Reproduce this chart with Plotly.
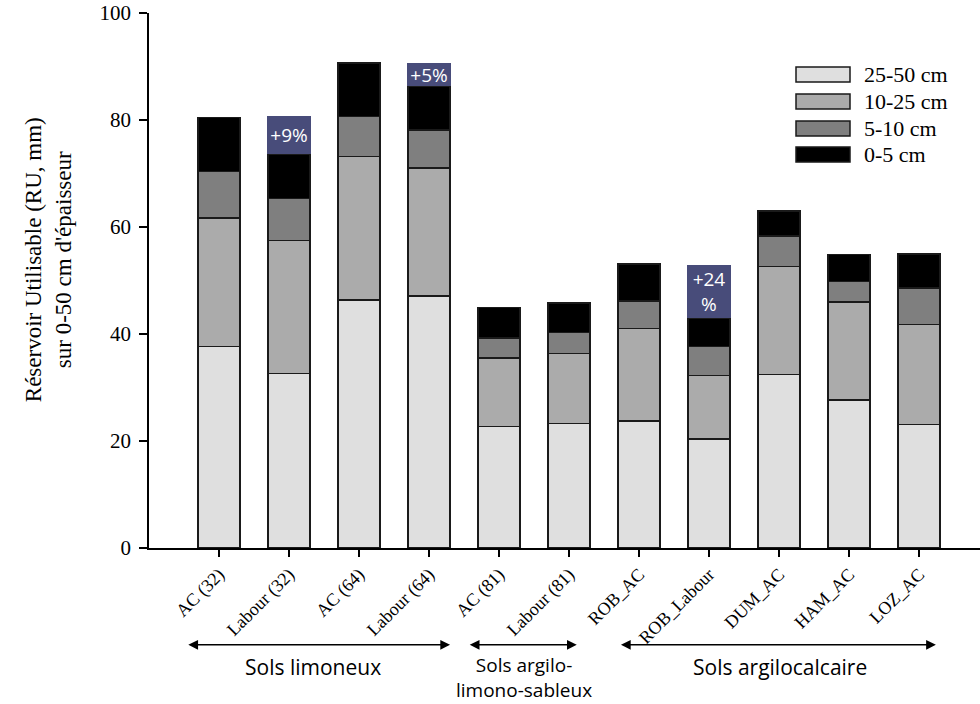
import plotly.graph_objects as go

# ---- data ----
categories = ["AC (32)", "Labour (32)", "AC (64)", "Labour (64)", "AC (81)", "Labour (81)",
              "ROB_AC", "ROB_Labour", "DUM_AC", "HAM_AC", "LOZ_AC"]
ru_25_50 = [37.7, 32.6, 46.4, 47.1, 22.7, 23.3, 23.7, 20.4, 32.4, 27.7, 23.1]
ru_10_25 = [24.0, 24.9, 26.8, 23.9, 12.8, 13.1, 17.3, 11.8, 20.2, 18.3, 18.7]
ru_5_10 = [8.7, 7.8, 7.5, 7.1, 3.8, 3.9, 5.2, 5.5, 5.7, 3.8, 6.8]
ru_0_5 = [10.1, 8.3, 10.0, 8.2, 5.7, 5.5, 6.9, 5.3, 4.7, 5.1, 6.4]
layer_names = ["25-50 cm", "10-25 cm", "5-10 cm", "0-5 cm"]
gain_labels = ["", "+9%", "", "+5%", "", "", "", "+24<br>%", "", "", ""]
gain_box_heights = [0, 38, 0, 23, 0, 0, 0, 53, 0, 0, 0]
group_labels = ["Sols limoneux", "Sols argilo-<br>limono-sableux", "Sols argilocalcaire"]

layers = [ru_25_50, ru_10_25, ru_5_10, ru_0_5]
colors = ["#dfdfdf", "#ababab", "#7f7f7f", "#000000"]

SERIF = "Liberation Serif, Times New Roman, serif"
SANS = "Open Sans, Lato, sans-serif"

fig = go.Figure()
for name, vals, col in zip(layer_names, layers, colors):
    fig.add_trace(go.Bar(
        x=categories, y=vals, name=name,
        marker=dict(color=col, line=dict(color="#1a1a1a", width=1.5)),
        showlegend=False,
    ))

totals = [sum(v) for v in zip(*layers)]

annotations = []
# gain boxes
for cat, tot, lab, h in zip(categories, totals, gain_labels, gain_box_heights):
    if lab:
        annotations.append(dict(
            x=cat, y=tot, xref="x", yref="y", text=lab, showarrow=False,
            yanchor="bottom", xanchor="center", width=44, height=h,
            bgcolor="#484c7a", borderpad=0, borderwidth=0,
            font=dict(family=SANS, size=19, color="white"), valign="middle",
        ))

# y-axis title
annotations.append(dict(
    x=-0.1215, y=0.538, xref="paper", yref="paper", textangle=-90, showarrow=False,
    text="Réservoir Utilisable (RU, mm)<br>sur 0-50 cm d'épaisseur",
    font=dict(family=SERIF, size=23, color="black"), xanchor="center", yanchor="middle",
))

# group arrows (double-headed)
arrow_spans = [(-0.46, 3.30), (3.56, 5.11), (5.72, 10.24)]
arrow_y = -0.181
for a, b in arrow_spans:
    annotations.append(dict(
        x=b, y=arrow_y, xref="x", yref="paper", ax=a, ay=0, axref="x", ayref="pixel",
        showarrow=True, arrowhead=2, startarrowhead=2, arrowside="end+start",
        arrowsize=1.3, startarrowsize=1.3, arrowwidth=1.5, arrowcolor="black", text="",
    ))
group_x = [1.34, 4.35, 8.01]
group_px_y = [667, 677.5, 667]
group_size = [21, 19, 21]
for gx, py, lab, fs in zip(group_x, group_px_y, group_labels, group_size):
    annotations.append(dict(
        x=gx, y=(548 - py) / 535, xref="x", yref="paper", text=lab, showarrow=False,
        xanchor="center", yanchor="middle", font=dict(family=SANS, size=fs, color="black"),
    ))

# custom legend
shapes = []
leg_top_px = [67, 94, 121, 147]
for name, col, top in zip(layer_names, colors, leg_top_px):
    y0 = (548 - (top + 15)) / 535
    y1 = (548 - top) / 535
    shapes.append(dict(type="rect", xref="paper", yref="paper",
                       x0=(796 - 149) / 831, x1=(850 - 149) / 831, y0=y0, y1=y1,
                       fillcolor=col, line=dict(color="#1a1a1a", width=1.5)))
    annotations.append(dict(
        x=(862 - 149) / 831, y=(y0 + y1) / 2, xref="paper", yref="paper", text=name,
        showarrow=False, xanchor="left", yanchor="middle",
        font=dict(family=SERIF, size=22, color="black"),
    ))

fig.update_layout(
    barmode="stack", bargap=0.4,
    width=980, height=704,
    margin=dict(l=149, r=0, t=13, b=156),
    paper_bgcolor="white", plot_bgcolor="white",
    annotations=annotations, shapes=shapes,
    xaxis=dict(range=[-1, 10.87], showline=True, linecolor="black", linewidth=1.5,
               ticks="outside", ticklen=7, tickcolor="black", tickwidth=1.5,
               tickangle=-45, tickfont=dict(family=SERIF, size=18, color="black"),
               showgrid=False, zeroline=False),
    yaxis=dict(range=[0, 100], dtick=20, showline=True, linecolor="black", linewidth=1.5,
               ticks="outside", ticklen=8, tickcolor="black", tickwidth=1.5,
               tickfont=dict(family=SERIF, size=21, color="black"),
               showgrid=False, zeroline=False, ticklabelstandoff=4,
               ticklabeloverflow="allow"),
)

fig.write_html("out.html", config={"displayModeBar": False},
               post_script="document.body.style.margin='0px';")
